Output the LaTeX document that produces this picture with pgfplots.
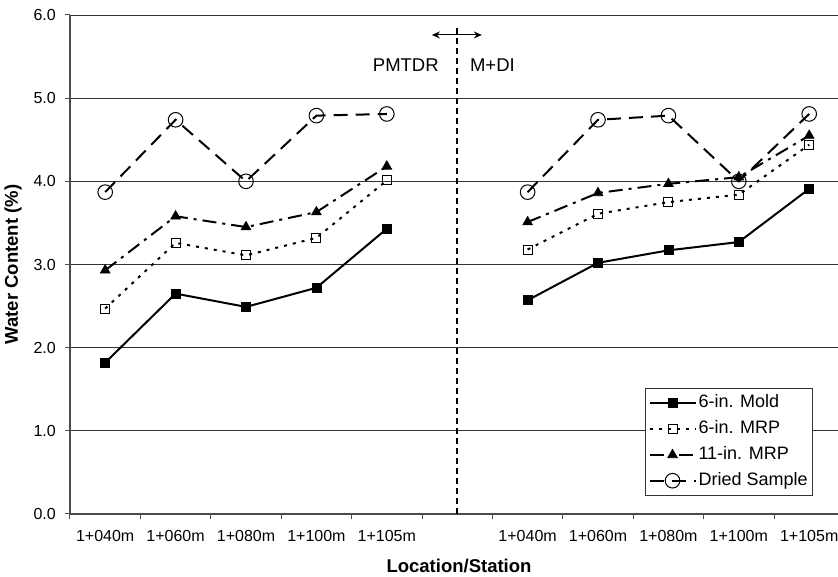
\documentclass[border=0pt]{standalone}
\usepackage{fontspec}
\setmainfont{Liberation Sans}
\usepackage{pgfplots}
\pgfplotsset{compat=1.18}
\usetikzlibrary{arrows.meta}
\begin{document}
\begin{tikzpicture}
\begin{axis}[
  name=ax,
  scale only axis,
  width=768pt, height=499pt,
  xmin=-0.5, xmax=10.409,
  ymin=0, ymax=6,
  axis lines*=left,
  axis line style={-, black!70, line width=1.2pt},
  ytick={0,1,2,3,4,5,6},
  /pgf/number format/fixed,
  /pgf/number format/fixed zerofill,
  /pgf/number format/precision=1,
  /pgf/number format/assume math mode=true,
  yticklabel style={font=\fontsize{16}{18}\selectfont, inner sep=0pt, anchor=east, xshift=-9pt},
  xtick={0,1,2,3,4,5,6,7,8,9,10},
  xticklabels={1+040m,1+060m,1+080m,1+100m,1+105m,,1+040m,1+060m,1+080m,1+100m,1+105m},
  xticklabel style={font=\fontsize{16}{18}\selectfont, inner sep=0pt, anchor=north, yshift=-11pt},
  major x tick style={draw=none},
  minor xtick={-0.5,0.5,1.5,2.5,3.5,4.5,5.5,6.5,7.5,8.5,9.5},
  tick align=outside,
  major tick length=5pt,
  minor tick length=5pt,
  tick style={black!70, line width=1pt},
  ymajorgrids,
  grid style={black!80, line width=0.8pt},
  xlabel={Location/Station},
  ylabel={Water Content (\%)},
  xlabel style={font=\fontsize{18.5}{20}\selectfont\bfseries, at={(axis description cs:0.5065,-0.104)}, anchor=center},
  ylabel style={font=\fontsize{18.5}{20}\selectfont\bfseries, at={(axis description cs:-0.0742,0.5)}, anchor=center},
  unbounded coords=jump,
  legend style={at={(0.9674,0.036)}, anchor=south east, draw=black!80, line width=0.8pt,
    font=\fontsize{18}{20}\selectfont, row sep=0pt,
    nodes={text height=13pt, text depth=4pt, inner ysep=4.4pt, inner xsep=2pt}},
  legend cell align=left,
  legend image code/.code={\draw[mark repeat=2,mark phase=2] plot coordinates {(0pt,0pt)(23pt,0pt)(46pt,0pt)};},
]
\addplot[black, line width=2pt, mark=square*, mark size=4.5pt, mark options={solid, line width=0.8pt}]
  coordinates {(0,1.82)(1,2.65)(2,2.49)(3,2.72)(4,3.43)(5,nan)(6,2.57)(7,3.02)(8,3.17)(9,3.27)(10,3.91)};
\addlegendentry{6-in. Mold}
\addplot[black, line width=2pt, dash pattern=on 3pt off 6pt, mark=square, mark size=4.5pt, mark options={solid, fill=white, line width=1pt}]
  coordinates {(0,2.47)(1,3.26)(2,3.11)(3,3.32)(4,4.01)(5,nan)(6,3.18)(7,3.61)(8,3.75)(9,3.84)(10,4.44)};
\addlegendentry{6-in. MRP}
\addplot[black, line width=2pt, dash pattern=on 14pt off 6pt on 3pt off 6pt, mark=triangle*, mark size=5.5pt, mark options={solid, line width=0.8pt}]
  coordinates {(0,2.93)(1,3.58)(2,3.45)(3,3.63)(4,4.18)(5,nan)(6,3.51)(7,3.86)(8,3.97)(9,4.05)(10,4.55)};
\addlegendentry{11-in. MRP}
\addplot[black, line width=2pt, dash pattern=on 14pt off 8pt, mark=o, mark size=7.3pt, mark options={solid, line width=1pt}]
  coordinates {(0,3.87)(1,4.74)(2,4.00)(3,4.79)(4,4.81)(5,nan)(6,3.87)(7,4.74)(8,4.79)(9,4.00)(10,4.81)};
\addlegendentry{Dried Sample}
\addplot[forget plot, black, line width=1.6pt, dash pattern=on 6pt off 4pt] coordinates {(5,0)(5,5.89)};
\draw[{Stealth[length=8pt,width=7pt]}-{Stealth[length=8pt,width=7pt]}, line width=1pt] (axis cs:4.64,5.76) -- (axis cs:5.35,5.76);
\node[anchor=east, font=\fontsize{18.5}{20}\selectfont, inner sep=0pt] at (axis cs:4.74,5.40) {PMTDR};
\node[anchor=west, font=\fontsize{18.5}{20}\selectfont, inner sep=0pt] at (axis cs:5.18,5.40) {M+DI};
\end{axis}
\pgfresetboundingbox
\path[use as bounding box] ([xshift=-70pt,yshift=-63pt]ax.south west) rectangle ([xshift=768pt,yshift=15pt]ax.north west);
\end{tikzpicture}
\end{document}
